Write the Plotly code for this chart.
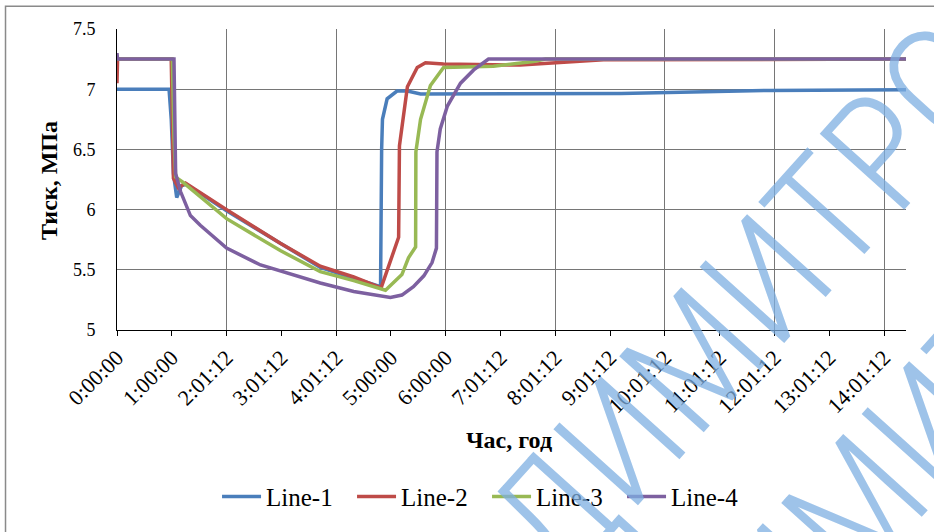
import plotly.graph_objects as go

# ---- data (time in hours on the category-like axis, pressure in MPa) ----
tick_labels = ["0:00:00", "1:00:00", "2:01:12", "3:01:12", "4:01:12", "5:00:00",
               "6:00:00", "7:01:12", "8:01:12", "9:01:12", "10:01:12", "11:01:12",
               "12:01:12", "13:01:12", "14:01:12"]
tick_pos = list(range(15))
grid_pos = [2, 4, 6, 8, 10, 12, 14]
y_ticks = [5, 5.5, 6, 6.5, 7, 7.5]
y_tick_labels = ["5", "5.5", "6", "6.5", "7", "7.5"]

t1 = [0, 0.95, 0.99, 1.03, 1.09, 1.18, 1.27, 2.0, 2.98, 3.71, 4.32, 4.81, 4.83, 4.845,
      4.93, 5.11, 5.3, 5.54, 9.2, 10.65, 11.9, 14.41]
p1 = [7.0, 7.0, 6.75, 6.3, 6.1, 6.2, 6.21, 5.99, 5.72, 5.52, 5.43, 5.36, 6.5, 6.75,
      6.92, 6.985, 6.985, 6.96, 6.965, 6.978, 6.99, 6.995]

t2 = [0, 0.01, 0.99, 1.0, 1.03, 1.12, 1.25, 2.0, 2.98, 3.71, 4.32, 4.82, 5.14, 5.155,
      5.3, 5.48, 5.63, 5.96, 7.36, 8.88, 14.41]
p2 = [7.05, 7.25, 7.25, 6.9, 6.26, 6.18, 6.22, 6.0, 5.72, 5.53, 5.44, 5.35, 5.77, 6.53,
      7.02, 7.18, 7.22, 7.21, 7.2, 7.245, 7.25]

t3 = [0, 1.01, 1.04, 1.07, 1.195, 2.0, 2.98, 3.71, 4.32, 4.9, 5.2, 5.32, 5.45, 5.455,
      5.54, 5.72, 5.96, 6.87, 7.6, 7.82, 14.41]
p3 = [7.25, 7.25, 6.6, 6.27, 6.23, 5.925, 5.66, 5.485, 5.41, 5.33, 5.46, 5.6, 5.69, 6.48,
      6.75, 7.03, 7.18, 7.19, 7.23, 7.25, 7.25]

t4 = [0, 0.01, 1.04, 1.07, 1.16, 1.34, 1.52, 2.0, 2.62, 3.71, 4.32, 4.99, 5.2, 5.41,
      5.6, 5.75, 5.83, 5.84, 5.9, 6.03, 6.27, 6.51, 6.78, 14.41]
p4 = [7.3, 7.25, 7.25, 6.3, 6.15, 5.95, 5.87, 5.68, 5.54, 5.39, 5.32, 5.27, 5.29, 5.36,
      5.45, 5.56, 5.68, 6.48, 6.67, 6.86, 7.05, 7.16, 7.25, 7.25]

names = ["Line-1", "Line-2", "Line-3", "Line-4"]
colors = ["#4A7EBB", "#BE4B48", "#98B954", "#7D60A0"]
series = [(t1, p1), (t2, p2), (t3, p3), (t4, p4)]

fig = go.Figure()
for (tx, py), nm, c in zip(series, names, colors):
    fig.add_trace(go.Scatter(x=tx, y=py, mode="lines", name=nm,
                             line=dict(color=c, width=3.5)))

serif = "Liberation Serif"
grid_c = "#767676"

fig.update_layout(
    width=934, height=532,
    margin=dict(l=117, r=28, t=29, b=200),
    paper_bgcolor="white", plot_bgcolor="white",
    font=dict(family=serif, color="black"),
    showlegend=True,
    legend=dict(orientation="h", x=0.469, xanchor="center", y=-0.554, yanchor="middle",
                font=dict(family=serif, size=25, color="black"),
                itemwidth=39, entrywidth=81, entrywidthmode="pixels",
                bgcolor="rgba(0,0,0,0)"),
    xaxis=dict(range=[0, 14.4], tickmode="array", tickvals=tick_pos, ticktext=tick_labels,
               tickangle=-45, tickfont=dict(family=serif, size=22, color="black"),
               showline=True, linecolor="black", linewidth=1,
               ticks="outside", ticklen=5, tickcolor="black", tickwidth=1,
               showgrid=False, zeroline=False,
               minor=dict(tickmode="array", tickvals=grid_pos, showgrid=True,
                          gridcolor=grid_c, gridwidth=1, ticks="")),
    yaxis=dict(range=[5, 7.5], tickmode="array", tickvals=y_ticks, ticktext=y_tick_labels,
               tickfont=dict(family=serif, size=18, color="black"),
               showline=True, linecolor="black", linewidth=1, ticks="",
               ticklabelstandoff=17,
               showgrid=True, gridcolor=grid_c, gridwidth=1, zeroline=False),
)

# axis titles
fig.add_annotation(text="<b>Тиск, МПа</b>", xref="paper", yref="paper",
                   x=-0.0862, y=0.498, textangle=-90, showarrow=False,
                   xanchor="center", yanchor="middle",
                   font=dict(family=serif, size=24, color="black"))
fig.add_annotation(text="<b>Час, год</b>", xref="paper", yref="paper",
                   x=0.497, y=-0.366, showarrow=False,
                   xanchor="center", yanchor="middle",
                   font=dict(family=serif, size=24, color="black"))

# outer chart frame
fig.add_shape(type="rect", xref="paper", yref="paper",
              x0=-0.1413, x1=1.1, y0=-0.8, y1=1.0759,
              line=dict(color="#8a8a8a", width=1.5), fillcolor="rgba(0,0,0,0)", layer="above")

# watermark (two diagonal rows)
wm_font = dict(family="Liberation Sans Narrow, Roboto Condensed, Roboto", size=160,
               color="rgba(125,175,225,0.75)", weight=300)
fig.add_annotation(text="ДИМИТРО", xref="paper", yref="paper",
                   x=0.80, y=0.095, textangle=-48, showarrow=False,
                   xanchor="center", yanchor="middle", font=wm_font)
fig.add_annotation(text="ДИМИТРО", xref="paper", yref="paper",
                   x=1.005, y=-0.393, textangle=-48, showarrow=False,
                   xanchor="center", yanchor="middle", font=wm_font)

fig.write_html("out.html", config={"displayModeBar": False},
               post_script="document.body.style.margin='0px';document.body.style.overflow='hidden';")
